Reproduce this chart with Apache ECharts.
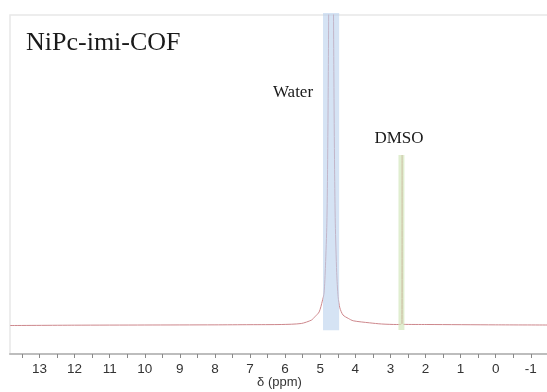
<!DOCTYPE html>
<html>
<head>
<meta charset="utf-8">
<script src="https://cdn.jsdelivr.net/npm/echarts@6/dist/echarts.min.js"></script>
<style>
  html, body { margin: 0; padding: 0; background: #ffffff; }
  #chart { width: 547px; height: 392px; }
</style>
</head>
<body>
<div id="chart"></div>
<script>
// 1H NMR trace of NiPc-imi-COF: chemical shift (ppm) vs. intensity (arbitrary units)
const shiftPpm = [
  13.84, 12.0, 10.0, 8.0, 7.0, 6.11, 5.54, 5.25, 5.15, 5.03, 4.94, 4.89, 4.85,
  4.81, 4.79, 4.77, 4.75,
  4.69,
  4.63, 4.61, 4.59, 4.57, 4.53, 4.49, 4.44, 4.35, 4.20, 4.06, 3.60, 3.25, 2.82,
  2.70, 2.68, 2.665, 2.65, 2.63, 1.96, 0.0, -1.52
];
const intensity = [
  8.4, 8.5, 8.55, 8.6, 8.65, 8.7, 9.0, 10.0, 11.0, 12.4, 15.6, 18.0, 26.0,
  38.6, 54.5, 81.4, 120,
  400,
  120, 81.4, 54.5, 38.6, 24.0, 16.9, 13.6, 11.5, 10.5, 9.8, 9.2, 8.85, 8.7,
  8.75, 9.0, 58.7, 9.0, 8.75, 8.7, 8.6, 8.55
];

// Highlighted solvent regions: [shift from, shift to, intensity from, intensity to]
const waterBand = [4.92, 4.46, 7.0, 100.6];
const dmsoBand = [2.77, 2.60, 7.1, 58.7];

const majorTicks = [13, 12, 11, 10, 9, 8, 7, 6, 5, 4, 3, 2, 1, 0, -1];
const minorTicks = [13.5, 13, 12.5, 12, 11.5, 11, 10.5, 10, 9.5, 9, 8.5, 8, 7.5, 7, 6.5, 6,
  5.5, 5, 4.5, 4, 3.5, 3, 2.5, 2, 1.5, 1, 0.5, 0, -0.5, -1, -1.5];

const spectrum = shiftPpm.map((x, i) => [x, intensity[i]]);

const chart = echarts.init(document.getElementById('chart'), null, { renderer: 'canvas' });

function bandItem(color) {
  return function (params, api) {
    const p1 = api.coord([api.value(0), api.value(3)]);
    const p2 = api.coord([api.value(1), api.value(2)]);
    return {
      type: 'rect',
      shape: {
        x: Math.min(p1[0], p2[0]),
        y: Math.min(p1[1], p2[1]),
        width: Math.abs(p2[0] - p1[0]),
        height: Math.abs(p2[1] - p1[1])
      },
      style: { fill: color }
    };
  };
}

chart.setOption({
  animation: false,
  backgroundColor: '#ffffff',
  title: {
    text: 'NiPc-imi-COF',
    left: 21,
    top: 25,
    textStyle: {
      fontFamily: 'Liberation Serif',
      fontSize: 26,
      fontWeight: 'normal',
      color: '#1a1a1a'
    }
  },
  grid: {
    left: 10,
    right: -2,
    top: 15,
    bottom: 38,
    outerBoundsMode: 'none',
    containLabel: false,
    show: true,
    borderColor: '#e8e8e8',
    borderWidth: 1.5
  },
  xAxis: {
    type: 'value',
    inverse: true,
    min: -1.52,
    max: 13.84,
    name: 'δ (ppm)',
    nameLocation: 'middle',
    nameGap: 22,
    nameMoveOverlap: false,
    nameTextStyle: { fontFamily: 'Liberation Sans', fontSize: 13, color: '#333' },
    axisLine: { show: true, lineStyle: { color: '#bdbdbd', width: 2 } },
    axisTick: {
      show: true,
      customValues: minorTicks,
      length: 4,
      lineStyle: { color: '#888', width: 1 }
    },
    axisLabel: {
      customValues: majorTicks,
      fontFamily: 'Liberation Sans',
      fontSize: 13.5,
      color: '#333',
      margin: 8
    },
    splitLine: { show: false }
  },
  yAxis: {
    type: 'value',
    min: 0,
    max: 100,
    show: false,
    splitLine: { show: false }
  },
  series: [
    {
      name: 'spectrum',
      type: 'line',
      data: spectrum,
      showSymbol: false,
      smooth: 0.25,
      clip: true,
      z: 2,
      lineStyle: { color: 'rgb(205,135,140)', width: 1 }
    },
    {
      name: 'Water',
      type: 'custom',
      data: [waterBand],
      clip: false,
      z: 3,
      renderItem: bandItem('rgba(188,210,238,0.62)')
    },
    {
      name: 'DMSO',
      type: 'custom',
      data: [dmsoBand],
      clip: false,
      z: 3,
      renderItem: bandItem('rgba(212,232,190,0.72)')
    }
  ],
  graphic: [
    {
      type: 'text',
      x: 293,
      y: 101,
      style: {
        text: 'Water',
        fontFamily: 'Liberation Serif',
        fontSize: 17,
        fill: '#1a1a1a',
        align: 'center',
        verticalAlign: 'bottom'
      }
    },
    {
      type: 'text',
      x: 399,
      y: 147,
      style: {
        text: 'DMSO',
        fontFamily: 'Liberation Serif',
        fontSize: 17,
        fill: '#1a1a1a',
        align: 'center',
        verticalAlign: 'bottom'
      }
    }
  ]
});
</script>
</body>
</html>
